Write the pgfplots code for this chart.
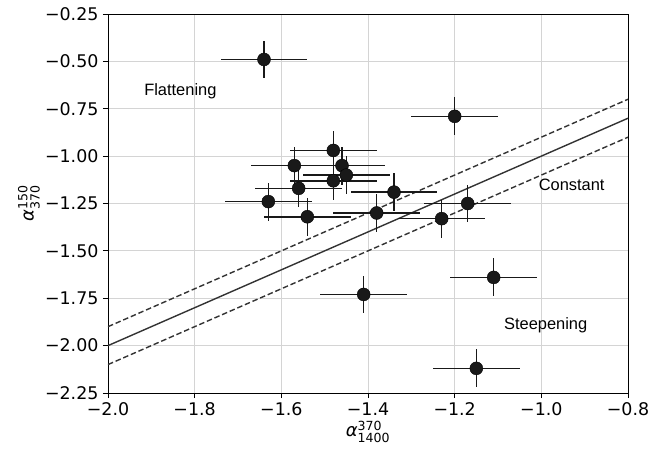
\documentclass[border=0pt]{standalone}
\usepackage{fontspec}
\setmainfont{DejaVu Sans}
\newfontfamily\annfont{Liberation Sans}
\usepackage{amsmath}
\usepackage{pgfplots}
\usepackage{pgfplotstable}
\pgfplotsset{compat=1.18}
\pgfplotstableread{
x y ex ey
-1.64 -0.49 0.1 0.1
-1.20 -0.79 0.1 0.1
-1.48 -0.97 0.1 0.1
-1.57 -1.05 0.1 0.1
-1.46 -1.05 0.1 0.1
-1.45 -1.10 0.1 0.1
-1.48 -1.13 0.1 0.1
-1.56 -1.17 0.1 0.1
-1.63 -1.24 0.1 0.1
-1.54 -1.32 0.1 0.1
-1.34 -1.19 0.1 0.1
-1.38 -1.30 0.1 0.1
-1.23 -1.33 0.1 0.1
-1.17 -1.25 0.1 0.1
-1.11 -1.64 0.1 0.1
-1.41 -1.73 0.1 0.1
-1.15 -2.12 0.1 0.1
}\datatable
\begin{document}
\begin{tikzpicture}
\begin{axis}[
  scale only axis, width=520bp, height=379bp,
  xmin=-2.0, xmax=-0.8, ymin=-2.25, ymax=-0.25,
  xtick={-2,-1.8,-1.6,-1.4,-1.2,-1.0,-0.8},
  xticklabels={−2.0,−1.8,−1.6,−1.4,−1.2,−1.0,−0.8},
  ytick={-2.25,-2,-1.75,-1.5,-1.25,-1,-0.75,-0.5,-0.25},
  yticklabels={−2.25,−2.00,−1.75,−1.50,−1.25,−1.00,−0.75,−0.50,−0.25},
  tick align=outside, tick pos=left,
  major tick length=5bp,
  grid=major, grid style={line width=0.8bp, color=black!17},
  axis line style={line width=0.9bp, black},
  every tick/.style={black, line width=0.9bp},
  ticklabel style={font=\fontsize{17.5}{17.5}\selectfont},
  xticklabel style={yshift=-1bp},
  yticklabel style={xshift=-1bp},
  xlabel={$\text{\itshape α}^{\text{370}}_{\text{1400}}$},
  ylabel={$\text{\itshape α}^{\text{150}}_{\text{370}}$},
  label style={font=\fontsize{18}{18}\selectfont},
  xlabel style={at={(axis description cs:0.5,0)}, anchor=center, yshift=-39bp},
  ylabel style={at={(axis description cs:0,0.5)}, anchor=center, yshift=79bp},
  clip=true,
]
\addplot[color=black!80, line width=1.4bp] coordinates {(-2,-2) (-0.8,-0.8)};
\addplot[color=black!80, line width=1.4bp, dash pattern=on 5.5bp off 2.8bp] coordinates {(-2,-1.9) (-0.8,-0.7)};
\addplot[color=black!80, line width=1.4bp, dash pattern=on 5.5bp off 2.8bp] coordinates {(-2,-2.1) (-0.8,-0.9)};
\addplot[only marks, mark=*, mark size=6.5bp, mark options={fill=black!90, draw=none},
  error bars/.cd, x dir=both, x explicit, y dir=both, y explicit, error mark=none,
  error bar style={line width=1.6bp, color=black!90}]
  table[x=x, y=y, x error=ex, y error=ey]{\datatable};
\node[font=\annfont\fontsize{16.5}{16.5}\selectfont] at (axis cs:-1.833,-0.66) {Flattening};
\node[font=\annfont\fontsize{16.5}{16.5}\selectfont] at (axis cs:-0.93,-1.15) {Constant};
\node[font=\annfont\fontsize{16.5}{16.5}\selectfont] at (axis cs:-0.99,-1.89) {Steepening};
\end{axis}
\path (current axis.south west) ++(-108bp,-58bp) rectangle ++(667bp,451bp);
\end{tikzpicture}
\end{document}
